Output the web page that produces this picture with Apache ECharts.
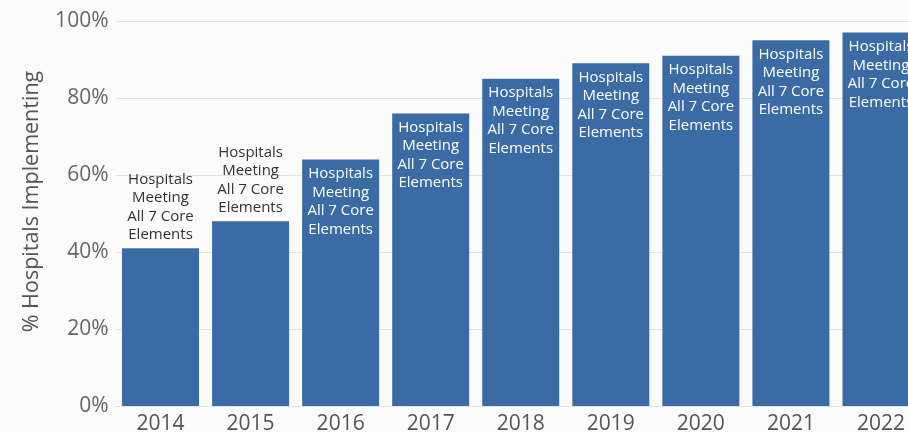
<!DOCTYPE html>
<html>
<head>
<meta charset="utf-8">
<script src="https://cdn.jsdelivr.net/npm/echarts@6/dist/echarts.min.js"></script>
<style>
  html, body { margin: 0; padding: 0; background: #fbfbfb; overflow: hidden; }
  /* the plot runs slightly past the right edge of the window */
  #chart { width: 926px; height: 433px; }
</style>
</head>
<body>
<div id="chart"></div>
<script>
// Share of hospitals meeting all 7 core elements, by year
const years = ['2014', '2015', '2016', '2017', '2018', '2019', '2020', '2021', '2022'];
const percentMeeting = [41, 48, 64, 76, 85, 89, 91, 95, 97];
const barLabel = 'Hospitals\nMeeting\nAll 7 Core\nElements';
const yTickValues = [0, 20, 40, 60, 80, 100];

// Short bars carry their label above the bar in dark text
const labelAboveUntil = 50;

const chart = echarts.init(document.getElementById('chart'), null, { renderer: 'canvas' });

const data = percentMeeting.map(v => {
  const above = v < labelAboveUntil;
  return {
    value: v,
    label: above
      ? { position: 'top', color: '#333', distance: 4 }
      : { position: 'insideTop', color: '#fff', distance: 5 }
  };
});

chart.setOption({
  backgroundColor: '#fbfbfb',
  animation: false,
  grid: {
    left: 115.5, right: 0, top: 21, bottom: 27,
    containLabel: false,
    outerBoundsMode: 'none'
  },
  xAxis: {
    type: 'category',
    data: years,
    axisTick: { show: false },
    axisLine: { show: true, lineStyle: { color: '#e2e2e2', width: 1 } },
    axisLabel: { color: '#555', fontSize: 21, fontFamily: 'Open Sans', margin: 8 }
  },
  yAxis: {
    type: 'value',
    min: yTickValues[0],
    max: yTickValues[yTickValues.length - 1],
    interval: 20,
    name: '% Hospitals Implementing',
    nameLocation: 'middle',
    nameGap: 73,
    nameTextStyle: { color: '#555', fontSize: 21.5, fontFamily: 'Open Sans', padding: [0, 0, 0, 24] },
    axisLine: { show: false },
    axisTick: { show: false },
    splitLine: { lineStyle: { color: '#e2e2e2', width: 1 } },
    axisLabel: { color: '#666', fontSize: 21, fontFamily: 'Open Sans', margin: 7, formatter: '{value}%' }
  },
  series: [{
    type: 'bar',
    data: data,
    barCategoryGap: '14.5%',
    itemStyle: { color: '#3a6ba5' },
    label: {
      show: true,
      formatter: barLabel,
      fontFamily: 'Open Sans',
      fontSize: 15,
      lineHeight: 18.5,
      align: 'center'
    }
  }]
});
</script>
</body>
</html>
